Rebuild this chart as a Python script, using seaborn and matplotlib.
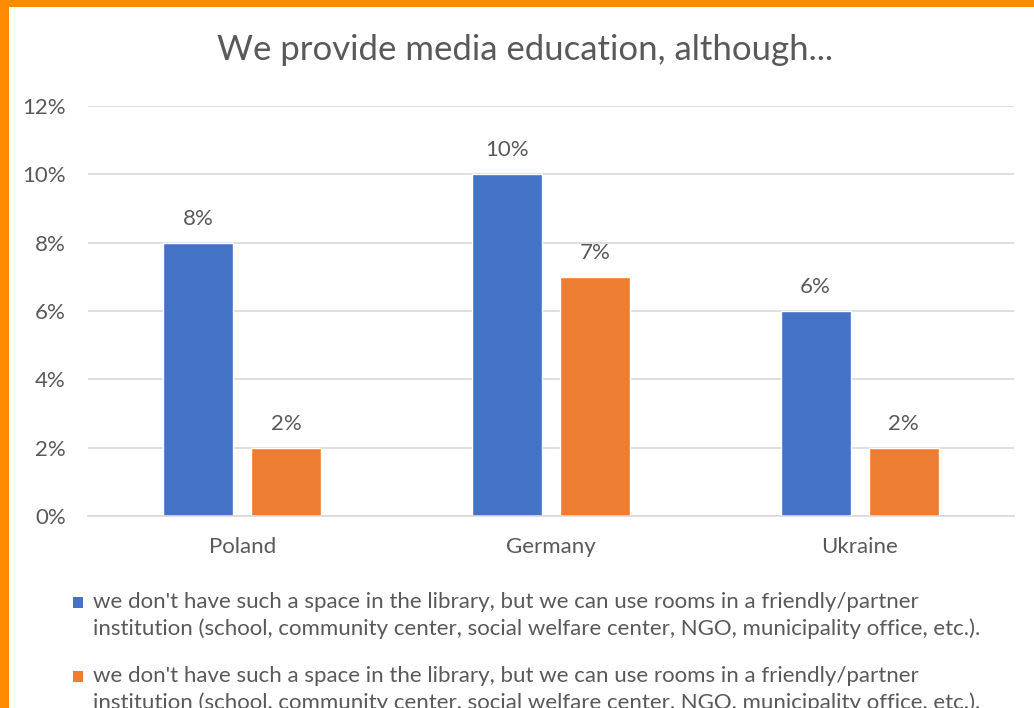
import matplotlib
matplotlib.use("Agg")
import matplotlib.pyplot as plt
import seaborn as sns
import pandas as pd
from matplotlib.patches import Rectangle

# Data
countries = ["Poland", "Germany", "Ukraine"]
series_lines = [
    "we don't have such a space in the library, but we can use rooms in a friendly/partner",
    "institution (school, community center, social welfare center, NGO, municipality office, etc.).",
]
series_names = ["\n".join(series_lines), "\n".join(series_lines) + " "]
series_a = [8, 10, 6]
series_b = [2, 7, 2]
colors = ["#4472C4", "#ED7D31"]
y_ticks = [0, 2, 4, 6, 8, 10, 12]

df = pd.DataFrame({
    "country": countries * 2,
    "series": [series_names[0]] * 3 + [series_names[1]] * 3,
    "value": series_a + series_b,
})

sns.set_theme(style="white")
plt.rcParams["font.family"] = ["Lato", "DejaVu Sans"]
text_gray = "#595959"

W, H = 1034, 708
fig = plt.figure(figsize=(W / 100, H / 100), dpi=100)
ax = fig.add_axes([88 / W, 1 - 516 / H, (1014 - 88) / W, (516 - 106) / H])

sns.barplot(data=df, x="country", y="value", hue="series", order=countries,
            hue_order=series_names, palette=colors, width=0.571, gap=0.205,
            saturation=1, legend=False, ax=ax)

ax.set_ylim(0, 12)
ax.set_xlim(-0.5, 2.5)
ax.set_yticks(y_ticks)
ax.set_yticklabels([f"{t}%" for t in y_ticks])
ax.yaxis.grid(True, color="#d9d9d9", linewidth=1.2)
ax.set_axisbelow(True)
for s in ["left", "right", "top"]:
    ax.spines[s].set_visible(False)
ax.spines["bottom"].set_color("#d9d9d9")
ax.spines["bottom"].set_linewidth(1.2)
ax.tick_params(axis="both", length=0, labelsize=16, colors=text_gray)
ax.tick_params(axis="y", pad=16)
ax.tick_params(axis="x", pad=15)
ax.set_xlabel("")
ax.set_ylabel("")

for cont in ax.containers:
    ax.bar_label(cont, labels=[f"{v:.0f}%" for v in cont.datavalues],
                 padding=10, fontsize=16, color=text_gray)

fig.text(525 / W, 1 - 50 / H, "We provide media education, although...",
         ha="center", va="center", fontsize=25, color=text_gray)

# legend: square marker on the first line of each two-line entry
entry_baselines = [608, 682]
line_step = 27
for color, base in zip(colors, entry_baselines):
    fig.patches.append(Rectangle((73 / W, 1 - base / H), 10 / W, 11 / H,
                                 transform=fig.transFigure,
                                 facecolor=color, edgecolor="none"))
    for i, line in enumerate(series_lines):
        fig.text(93 / W, 1 - (base + i * line_step) / H, line,
                 ha="left", va="baseline", fontsize=16, color=text_gray)

# orange frame on top and left edges
fig.patches.append(Rectangle((0, 1 - 7 / H), 1, 7 / H, transform=fig.transFigure,
                             facecolor="#FF8C00", edgecolor="none", zorder=10))
fig.patches.append(Rectangle((0, 0), 9 / W, 1, transform=fig.transFigure,
                             facecolor="#FF8C00", edgecolor="none", zorder=10))

fig.savefig("out.png", dpi=100)
